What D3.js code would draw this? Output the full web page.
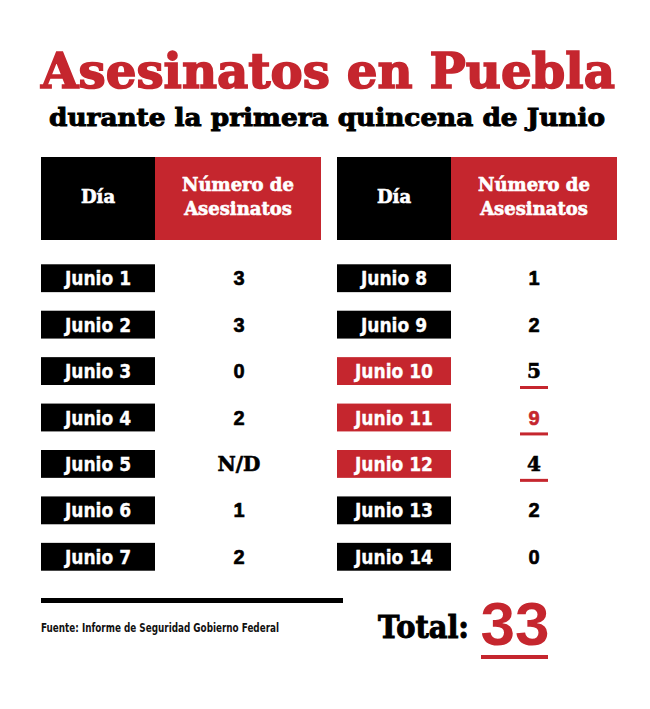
<!DOCTYPE html>
<html><head><meta charset="utf-8">
<script src="https://cdn.jsdelivr.net/npm/d3@7"></script>
<style>body{margin:0;background:#fff}</style>
</head><body><svg id="c" width="650" height="709"></svg>
<script>
const daysLeft = ["Junio 1","Junio 2","Junio 3","Junio 4","Junio 5","Junio 6","Junio 7"];
const valuesLeft = ["3","3","0","2","N/D","1","2"];
const daysRight = ["Junio 8","Junio 9","Junio 10","Junio 11","Junio 12","Junio 13","Junio 14"];
const valuesRight = ["1","2","5","9","4","2","0"];
const highlightDays = ["Junio 10","Junio 11","Junio 12"];
const totalLabel = "Total:";
const totalValue = "33";
const title = "Asesinatos en Puebla";
const subtitle = "durante la primera quincena de Junio";
const source = "Fuente: Informe de Seguridad Gobierno Federal";

const RED = "#c5262e", BLACK = "#000";
const SLAB = "'DejaVu Serif', serif";
const COND = "'Liberation Sans Narrow','DejaVu Sans Condensed','Liberation Sans',sans-serif";
const svg = d3.select("#c");

svg.append("text").attr("x",328).attr("y",88).attr("text-anchor","middle")
  .attr("font-family",SLAB).attr("font-weight","bold").attr("font-size",48)
  .attr("textLength",574).attr("lengthAdjust","spacingAndGlyphs")
  .attr("fill",RED).attr("stroke",RED).attr("stroke-width",1.6).text(title);
svg.append("text").attr("x",327).attr("y",126).attr("text-anchor","middle")
  .attr("font-family",SLAB).attr("font-weight","bold").attr("font-size",25)
  .attr("textLength",556).attr("lengthAdjust","spacingAndGlyphs")
  .attr("fill",BLACK).attr("stroke",BLACK).attr("stroke-width",1).text(subtitle);

const y = d3.scaleBand().domain(d3.range(7)).range([255,580]).paddingInner(0.4).paddingOuter(0.2);

function table(days, vals, x0, valX){
  const g = svg.append("g");
  g.append("rect").attr("x",x0).attr("y",157).attr("width",114).attr("height",83).attr("fill",BLACK);
  g.append("rect").attr("x",x0+114).attr("y",157).attr("width",166).attr("height",83).attr("fill",RED);
  g.append("text").attr("x",x0+57).attr("y",203).attr("text-anchor","middle")
    .attr("font-family",SLAB).attr("font-weight","bold").attr("font-size",18).attr("fill","#fff")
    .attr("stroke","#fff").attr("stroke-width",0.6).text("Día");
  ["Número de","Asesinatos"].forEach((t,i)=>{
    g.append("text").attr("x",x0+197).attr("y",191+i*24).attr("text-anchor","middle")
      .attr("font-family",SLAB).attr("font-weight","bold").attr("font-size",18).attr("fill","#fff")
      .attr("stroke","#fff").attr("stroke-width",0.6).text(t);
  });
  const rows = g.selectAll(".row").data(days.map((d,i)=>({day:d,val:vals[i],i}))).enter().append("g");
  rows.append("rect").attr("x",x0).attr("y",d=>y(d.i)).attr("width",114).attr("height",y.bandwidth())
    .attr("fill",d=>highlightDays.includes(d.day)?RED:BLACK);
  rows.append("text").attr("x",x0+57).attr("y",d=>y(d.i)+y.bandwidth()/2+7).attr("text-anchor","middle")
    .attr("font-family",COND).attr("font-weight","bold").attr("font-size",19).attr("fill","#fff")
    .attr("stroke","#fff").attr("stroke-width",0.3).text(d=>d.day);
  rows.append("text").attr("x",valX).attr("y",d=>y(d.i)+y.bandwidth()/2+7).attr("text-anchor","middle")
    .attr("font-family",d=>(highlightDays.includes(d.day)&&d.val!=="9")||d.val==="N/D"?SLAB:"'Liberation Sans',sans-serif")
    .attr("font-weight","bold").attr("font-size",20)
    .attr("fill",d=>d.val==="9"?RED:BLACK).attr("stroke",d=>d.val==="9"?RED:BLACK).attr("stroke-width",0.6)
    .text(d=>d.val);
  rows.filter(d=>highlightDays.includes(d.day)).append("rect")
    .attr("x",valX-14).attr("y",d=>y(d.i)+y.bandwidth()+1).attr("width",28).attr("height",3).attr("fill",RED);
}
table(daysLeft, valuesLeft, 41, 239);
table(daysRight, valuesRight, 337, 534);

svg.append("rect").attr("x",41).attr("y",598).attr("width",302).attr("height",5).attr("fill",BLACK);
svg.append("text").attr("x",41).attr("y",632).attr("font-family",COND).attr("font-size",12).attr("font-weight","bold")
  .attr("textLength",238).attr("lengthAdjust","spacingAndGlyphs")
  .attr("fill","#111").text(source);
svg.append("text").attr("x",378).attr("y",638).attr("font-family",SLAB).attr("font-weight","bold")
  .attr("font-size",31).attr("textLength",91).attr("lengthAdjust","spacingAndGlyphs").attr("fill",BLACK)
  .attr("stroke",BLACK).attr("stroke-width",1).text(totalLabel);
svg.append("text").attr("x",515).attr("y",645).attr("text-anchor","middle").attr("font-family","'Liberation Sans',sans-serif").attr("font-weight","bold")
  .attr("font-size",62).attr("fill",RED).text(totalValue);
svg.append("rect").attr("x",481).attr("y",655).attr("width",67).attr("height",4).attr("fill",RED);
</script></body></html>
